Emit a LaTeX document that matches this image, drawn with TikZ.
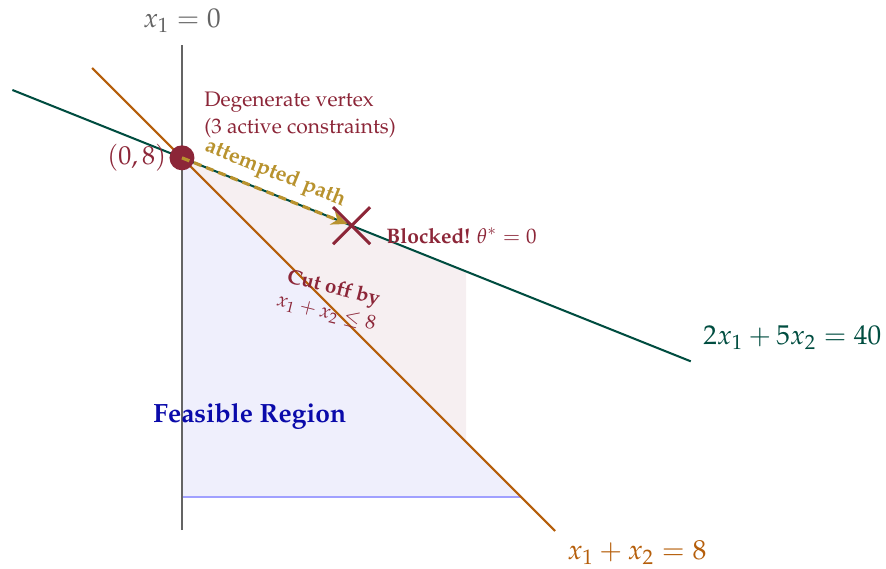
\documentclass[tikz,border=0pt]{standalone}
\usepackage[T1]{fontenc}
\usepackage{mathpazo}
\usetikzlibrary{arrows.meta,shapes.misc}
\definecolor{cRed}{RGB}{140,38,56}
\definecolor{cGold}{RGB}{184,146,46}
\definecolor{cOrange}{RGB}{181,94,10}
\definecolor{cTeal}{RGB}{0,77,64}
\definecolor{cGray}{RGB}{100,100,100}
\definecolor{cBlueText}{RGB}{10,10,170}
\definecolor{cBlueFill}{RGB}{239,239,252}
\definecolor{cPinkFill}{RGB}{246,239,241}
\definecolor{cBlueLine}{RGB}{160,160,255}
\tikzset{
  txt/.style={inner sep=0pt},
  axisline/.style={draw=cGray, line width=1pt},
  orangeline/.style={draw=cOrange, line width=1pt},
  tealline/.style={draw=cTeal, line width=1pt},
  vertexdot/.style={circle, fill=cRed, minimum size=12.5pt, inner sep=0pt},
  attempt/.style={draw=cGold, line width=1.6pt, dash pattern=on 4pt off 2.5pt, -{Stealth[length=8pt,width=7pt]}},
  blockx/.style={draw=cRed, cross out, line width=1.5pt, minimum size=17pt, inner sep=0pt},
}
\begin{document}
\begin{tikzpicture}[x=21.2pt,y=21.2pt]
\useasboundingbox (-4.292,-1.675) rectangle (16.604,11.722);
\coordinate (O) at (0,0);
\coordinate (B) at (8,0);
\coordinate (V) at (0,8);
\coordinate (P1) at (6.7,5.32);
\coordinate (P2) at (6.7,1.3);
\fill[cPinkFill] (V) -- (P1) -- (P2) -- cycle;
\fill[cBlueFill] (O) -- (B) -- (V) -- cycle;
\draw[cBlueLine, line width=0.6pt] (O) -- (B);
\coordinate (axT) at (0,10.66);
\coordinate (axB) at (0,-0.78);
\draw[axisline] (axB) -- (axT);
\coordinate (oA) at (-2.12,10.12);
\coordinate (oB) at (8.8,-0.8);
\draw[orangeline] (oA) -- (oB);
\coordinate (gA) at (-4,9.6);
\coordinate (gB) at (12,3.2);
\draw[tealline] (gA) -- (gB);
\node[vertexdot] (vtx) at (V) {};
\coordinate (tip) at (3.9,6.44);
\draw[attempt] (V) -- (tip);
\node[blockx] (X) at (4,6.4) {};
\node[txt, anchor=south, text=cGray, font=\fontsize{13.6}{16}\selectfont] (ax0) at (0,10.95) {$x_1 = 0$};
\node[txt, anchor=west, align=left, text=cRed, font=\fontsize{10.5}{13.5}\selectfont] (deg) at (0.52,9.02) {Degenerate vertex\\(3 active constraints)};
\node[txt, anchor=east, text=cRed, font=\fontsize{13}{15}\selectfont] (lbl) at (-0.36,8) {$(0,8)$};
\node[txt, text=cGold, rotate=-21.8, font=\bfseries\fontsize{10.8}{12}\selectfont] (att) at (2.2,7.62) {attempted path};
\node[txt, anchor=west, text=cRed, font=\fontsize{10.5}{12}\selectfont] (blk) at (4.81,6.16) {\textbf{Blocked!} $\theta^* = 0$};
\node[txt, text=cRed, rotate=-14, font=\bfseries\fontsize{10.2}{12}\selectfont] (cut) at (3.57,4.9) {Cut off by};
\node[txt, text=cRed, rotate=-14, font=\fontsize{10}{12}\selectfont] (cut2) at (3.40,4.34) {$x_1 + x_2 \leq 8$};
\node[txt, text=cBlueText, font=\bfseries\fontsize{13.2}{15}\selectfont] (feas) at (1.60,1.91) {Feasible Region};
\node[txt, anchor=west, text=cTeal, font=\fontsize{13.6}{17}\selectfont] (geq) at (12.29,3.75) {$2x_1 + 5x_2 = 40$};
\node[txt, text=cOrange, font=\fontsize{13.8}{17}\selectfont] (oeq) at (10.73,-1.32) {$x_1 + x_2 = 8$};
\end{tikzpicture}
\end{document}
